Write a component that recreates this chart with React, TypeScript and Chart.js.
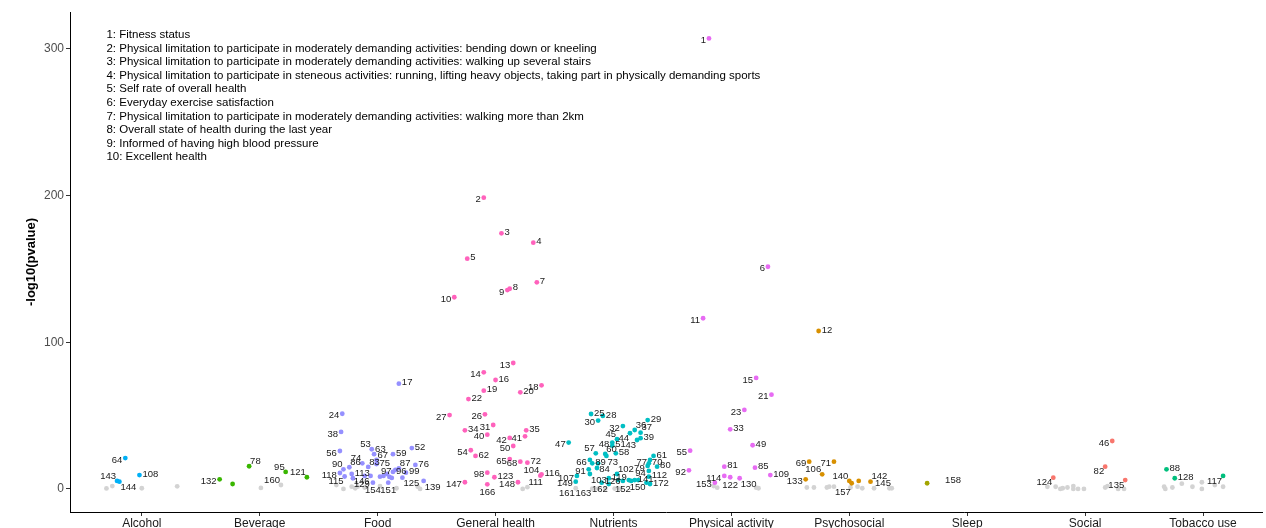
import React, { useEffect, useRef } from "react";
import { Chart, registerables } from "chart.js";

Chart.register(...registerables);

type P = [string, number, number]; // [label, jitter, -log10(p)]

const categories = ["Alcohol", "Beverage", "Food", "General health", "Nutrients", "Physical activity", "Psychosocial", "Sleep", "Social", "Tobacco use"];
const categoryColors = ["#00B0F6", "#39B600", "#9590FF", "#FF62BC", "#00BFC4", "#E76BF3", "#D89000", "#A3A500", "#F8766D", "#00BF7D"];
const yTicks = [0, 100, 200, 300];

const legendLines = [
  "1: Fitness status",
  "2: Physical limitation to participate in moderately demanding activities: bending down or kneeling",
  "3: Physical limitation to participate in moderately demanding activities: walking up several stairs",
  "4: Physical limitation to participate in steneous activities: running, lifting heavy objects, taking part in physically demanding sports",
  "5: Self rate of overall health",
  "6: Everyday exercise satisfaction",
  "7: Physical limitation to participate in moderately demanding activities: walking more than 2km",
  "8: Overall state of health during the last year",
  "9: Informed of having high blood pressure",
  "10: Excellent health",
];

const alcoholPts: P[] = [["64", -0.14, 21.1], ["108", -0.02, 9.5], ["143", -0.21, 5.5], ["144", -0.19, 5.0]];
const alcoholGray: P[] = [["", -0.30, 0.4], ["", -0.25, 2.0], ["", 0.0, 0.5], ["", 0.30, 1.8]];

const beveragePts: P[] = [["132", -0.34, 6.6], ["", -0.23, 3.4], ["78", -0.09, 15.5], ["95", 0.22, 11.6], ["121", 0.40, 8.0]];
const beverageGray: P[] = [["", 0.01, 0.7], ["160", 0.18, 2.7]];

const foodPts: P[] = [
  ["17", 0.18, 71.8], ["24", -0.30, 51.3], ["38", -0.31, 38.9], ["56", -0.32, 25.9], ["53", -0.05, 27.1],
  ["63", -0.03, 23.7], ["59", 0.13, 23.7], ["52", 0.29, 27.9], ["67", -0.01, 19.8], ["74", -0.13, 17.5],
  ["83", -0.08, 15.0], ["75", -0.01, 17.0], ["87", 0.18, 14.1], ["76", 0.32, 16.4], ["86", -0.24, 14.8],
  ["90", -0.29, 13.4], ["113", -0.22, 10.2], ["118", -0.32, 10.9], ["97", 0.02, 8.4], ["96", 0.13, 11.6],
  ["99", 0.24, 11.1], ["146", -0.06, 8.9], ["115", -0.28, 8.5], ["129", -0.21, 7.3], ["125", 0.21, 7.7],
  ["139", 0.39, 5.5], ["154", -0.04, 4.3], ["151", 0.09, 4.3],
  ["", 0.08, 10.2], ["", 0.10, 8.2], ["", 0.05, 8.9], ["", 0.12, 7.5], ["", -0.11, 8.9], ["", 0.15, 13.0],
];
const foodGray: P[] = [
  ["", -0.35, 2.7], ["", -0.29, 0.0], ["", -0.22, 1.6], ["", -0.19, 0.5], ["", -0.17, 1.6],
  ["", -0.11, 1.0], ["", 0.02, 2.0], ["", 0.16, 0.5], ["", 0.34, 1.6], ["", 0.36, 0.0],
];

const generalHealthPts: P[] = [
  ["2", -0.10, 198.6], ["3", 0.05, 174.3], ["4", 0.32, 167.9], ["5", -0.24, 157.0], ["7", 0.35, 140.9],
  ["8", 0.12, 136.5], ["9", 0.10, 135.6], ["10", -0.35, 130.7], ["13", 0.15, 85.9], ["14", -0.10, 79.5],
  ["16", 0.0, 74.3], ["18", 0.39, 70.7], ["19", -0.10, 67.0], ["20", 0.21, 65.9], ["22", -0.23, 61.3],
  ["27", -0.39, 50.4], ["26", -0.09, 50.9], ["31", -0.02, 43.6], ["34", -0.26, 40.0], ["35", 0.26, 40.0],
  ["40", -0.07, 37.0], ["42", 0.12, 34.8], ["41", 0.25, 35.9], ["54", -0.21, 26.4], ["50", 0.15, 29.3],
  ["62", -0.17, 22.5], ["65", 0.12, 20.4], ["68", 0.21, 18.6], ["72", 0.27, 17.9], ["98", -0.07, 11.1],
  ["123", -0.01, 8.0], ["147", -0.26, 4.6], ["166", -0.07, 3.2], ["148", 0.19, 4.6], ["104", 0.38, 9.1],
  ["116", 0.39, 10.0],
];
const generalHealthGray: P[] = [["", 0.23, 0.0], ["111", 0.27, 1.2]];

const nutrientsPts: P[] = [
  ["47", -0.38, 31.6], ["25", -0.19, 51.1], ["28", -0.09, 49.8], ["30", -0.13, 46.6], ["29", 0.29, 47.0],
  ["32", 0.08, 42.9], ["36", 0.18, 40.2], ["37", 0.23, 38.4], ["39", 0.23, 34.6], ["44", 0.14, 38.0],
  ["45", 0.03, 33.9], ["43", 0.20, 33.4], ["48", -0.01, 31.6], ["51", -0.01, 29.5], ["57", -0.15, 24.3],
  ["60", -0.07, 23.9], ["58", 0.02, 24.3], ["73", -0.06, 22.5], ["66", -0.20, 19.8], ["61", 0.34, 22.5],
  ["77", 0.31, 19.8], ["70", 0.30, 17.5], ["79", 0.29, 15.7], ["89", -0.18, 17.5], ["84", -0.13, 17.5],
  ["91", -0.21, 13.4], ["80", 0.37, 15.2], ["94", 0.30, 12.3], ["102", 0.03, 10.2], ["107", -0.31, 8.9],
  ["112", 0.30, 8.4], ["103", -0.20, 10.2], ["119", -0.04, 7.3], ["149", -0.32, 5.0], ["126", -0.10, 4.3],
  ["141", 0.18, 6.1], ["162", -0.04, 3.4], ["152", 0.08, 5.5], ["150", 0.28, 4.3], ["172", 0.31, 3.4],
  ["", 0.04, 6.1], ["", 0.13, 6.1], ["", 0.15, 5.5], ["", -0.14, 14.3], ["", 0.21, 6.1],
];
const nutrientsGray: P[] = [["161", -0.32, 0.5], ["163", -0.18, 0.2], ["", -0.13, 0.3], ["", -0.07, 0.2], ["", 0.01, 0.3], ["", 0.06, 0.2]];

const physicalActivityPts: P[] = [
  ["1", -0.19, 307.2], ["6", 0.31, 151.5], ["11", -0.24, 116.4], ["15", 0.21, 75.7], ["21", 0.34, 64.3],
  ["23", 0.11, 53.9], ["33", -0.01, 40.7], ["49", 0.18, 29.8], ["55", -0.35, 26.1], ["92", -0.36, 12.7],
  ["81", -0.06, 15.2], ["85", 0.20, 14.5], ["114", -0.06, 8.9], ["109", 0.33, 9.5], ["122", -0.01, 8.0],
  ["153", -0.14, 4.3], ["130", 0.07, 7.3],
];
const physicalActivityGray: P[] = [["", -0.15, 2.0], ["", -0.12, 0.9], ["", 0.21, 0.9], ["", 0.23, 0.5]];

const psychosocialPts: P[] = [
  ["12", -0.26, 107.7], ["69", -0.34, 18.6], ["71", -0.13, 18.6], ["133", -0.37, 6.6], ["106", -0.23, 10.0],
  ["140", 0.0, 5.5], ["", 0.02, 3.9], ["", 0.08, 5.5], ["142", 0.18, 5.0],
];
const psychosocialGray: P[] = [
  ["", -0.36, 1.0], ["", -0.30, 1.0], ["", -0.19, 1.0], ["", -0.17, 1.6], ["157", -0.13, 1.6],
  ["", 0.01, 1.0], ["", 0.07, 1.6], ["", 0.11, 0.5], ["145", 0.21, 0.5], ["", 0.34, 0.5], ["", 0.36, 0.5],
];

const sleepPts: P[] = [["158", -0.34, 3.9]];
const sleepGray: P[] = [];

const socialPts: P[] = [["46", 0.23, 32.7], ["82", 0.17, 15.2], ["124", -0.27, 7.7], ["135", 0.34, 6.1]];
const socialGray: P[] = [
  ["", -0.32, 1.5], ["", -0.25, 1.5], ["", -0.21, 0.0], ["", -0.19, 0.5], ["", -0.15, 1.0], ["", -0.10, 2.0],
  ["", -0.10, 0.0], ["", -0.06, 0.0], ["", -0.01, 0.0], ["", 0.17, 1.0], ["", 0.19, 2.0], ["", 0.28, 0.0], ["", 0.33, 0.0],
];

const tobaccoPts: P[] = [["88", -0.31, 13.4], ["128", -0.24, 7.3], ["117", 0.17, 8.9]];
const tobaccoGray: P[] = [
  ["", -0.33, 1.5], ["", -0.32, 0.0], ["", -0.26, 1.0], ["", -0.18, 3.6], ["", -0.09, 1.5],
  ["", -0.01, 0.0], ["", -0.01, 4.6], ["", 0.10, 2.7], ["", 0.17, 1.5],
];

const significant = [alcoholPts, beveragePts, foodPts, generalHealthPts, nutrientsPts, physicalActivityPts, psychosocialPts, sleepPts, socialPts, tobaccoPts];
const nonSignificant = [alcoholGray, beverageGray, foodGray, generalHealthGray, nutrientsGray, physicalActivityGray, psychosocialGray, sleepGray, socialGray, tobaccoGray];

const placeGroups: Record<string, string[]> = {
  l: ["64", "132", "24", "38", "56", "118", "2", "9", "10", "13", "14", "18", "27", "26", "31", "40", "42", "41", "54", "50", "65", "68", "98", "147", "148", "47", "30", "32", "48", "66", "77", "79", "91", "94", "107", "149", "1", "6", "11", "15", "21", "23", "55", "92", "114", "153", "69", "71", "133", "46"],
  lu: ["143", "95", "121", "160", "53", "74", "90", "104", "45", "57", "106", "140"],
  ru: ["78", "63", "67", "83", "87", "86", "97", "36", "37", "60", "102", "111", "142", "145"],
  ld: ["146", "115", "44", "43", "150", "161", "163", "162", "82", "124", "135", "117"],
  rd: ["144", "129", "125", "139", "73", "84", "103", "130", "157"],
  d: ["154", "151", "166", "152", "122"],
  R: ["158"],
};
const placement: Record<string, string> = {};
Object.keys(placeGroups).forEach((k) => placeGroups[k].forEach((lab) => (placement[lab] = k)));

const FONT = '"Liberation Sans", Arial, Helvetica, sans-serif';

const textPlugin = {
  id: "textPlugin",
  afterDatasetsDraw(chart: any) {
    const ctx = chart.ctx;
    ctx.save();
    ctx.font = `9.5px ${FONT}`;
    ctx.fillStyle = "#1a1a1a";
    chart.data.datasets.forEach((ds: any, di: number) => {
      const meta = chart.getDatasetMeta(di);
      meta.data.forEach((el: any, i: number) => {
        const lab = ds.data[i].label;
        if (!lab) return;
        const px = el.x, py = el.y;
        const p = placement[lab] || "r";
        let x = px, y = py, align: CanvasTextAlign = "left";
        if (p === "l") { align = "right"; x = px - 3; y = py + 2; }
        else if (p === "r") { align = "left"; x = px + 3; y = py - 1; }
        else if (p === "lu") { align = "right"; x = px - 1; y = py - 5; }
        else if (p === "ru") { align = "left"; x = px + 1; y = py - 5; }
        else if (p === "ld") { align = "right"; x = px - 1; y = py + 5; }
        else if (p === "rd") { align = "left"; x = px + 1; y = py + 6; }
        else if (p === "d") { align = "center"; x = px; y = py + 8; }
        else if (p === "R") { align = "left"; x = px + 18; y = py - 3; }
        ctx.textAlign = align;
        ctx.textBaseline = "middle";
        ctx.fillText(lab, x, y);
      });
    });
    // annotation block
    const xs = chart.scales.x, ys = chart.scales.y;
    ctx.font = `11.5px ${FONT}`;
    ctx.fillStyle = "#000";
    ctx.textAlign = "left";
    ctx.textBaseline = "middle";
    const lx = xs.getPixelForValue(-0.3);
    const ly = ys.getPixelForValue(309.5);
    legendLines.forEach((t, i) => ctx.fillText(t, lx, ly + i * 13.56));
    // y title
    ctx.font = `bold 13px ${FONT}`;
    ctx.translate(31, (chart.chartArea.top + chart.chartArea.bottom) / 2);
    ctx.rotate(-Math.PI / 2);
    ctx.textAlign = "center";
    ctx.fillText("-log10(pvalue)", 0, 0);
    ctx.restore();
  },
};

export default function App() {
  const ref = useRef<HTMLCanvasElement | null>(null);
  useEffect(() => {
    document.body.style.margin = "0";
    const grayData: any[] = [];
    nonSignificant.forEach((arr, ci) => arr.forEach(([label, j, v]) => grayData.push({ x: ci + j, y: v, label })));
    const datasets: any[] = significant.map((arr, ci) => ({
      label: categories[ci],
      data: arr.map(([label, j, v]) => ({ x: ci + j, y: v, label })),
      backgroundColor: categoryColors[ci],
      borderWidth: 0,
      pointRadius: 2.4,
    }));
    datasets.push({ label: "ns", data: grayData, backgroundColor: "#D3D3D3", borderWidth: 0, pointRadius: 2.4 });

    const chart = new Chart(ref.current as HTMLCanvasElement, {
      type: "scatter",
      data: { datasets },
      options: {
        responsive: false,
        animation: false,
        devicePixelRatio: 1,
        layout: { padding: { top: 12, right: 0, left: 0, bottom: 0 } },
        plugins: { legend: { display: false }, tooltip: { enabled: false } },
        scales: {
          x: {
            type: "linear",
            min: -0.609,
            max: 9.5,
            afterBuildTicks: (s: any) => { s.ticks = categories.map((_, i) => ({ value: i })); },
            afterFit: (s: any) => { s.height = 16; },
            ticks: {
              callback: (v: any) => categories[v as number] ?? "",
              autoSkip: false,
              maxRotation: 0,
              padding: 0,
              color: "#1a1a1a",
              font: { size: 12, family: FONT },
            },
            grid: { drawOnChartArea: false, drawTicks: true, tickLength: 4, color: "#333" },
            border: { display: true, color: "#000", width: 1 },
          },
          y: {
            min: -15.7,
            max: 325.2,
            afterBuildTicks: (s: any) => { s.ticks = yTicks.map((v) => ({ value: v })); },
            afterFit: (s: any) => { s.width = 70; },
            ticks: { padding: 2, color: "#4d4d4d", font: { size: 12, family: FONT } },
            grid: { drawOnChartArea: false, drawTicks: true, tickLength: 4, color: "#333" },
            border: { display: true, color: "#000", width: 1 },
          },
        },
      },
      plugins: [textPlugin],
    });
    return () => chart.destroy();
  }, []);
  return (
    <div style={{ width: 1266, height: 528 }}>
      <canvas ref={ref} width={1266} height={528} />
    </div>
  );
}
